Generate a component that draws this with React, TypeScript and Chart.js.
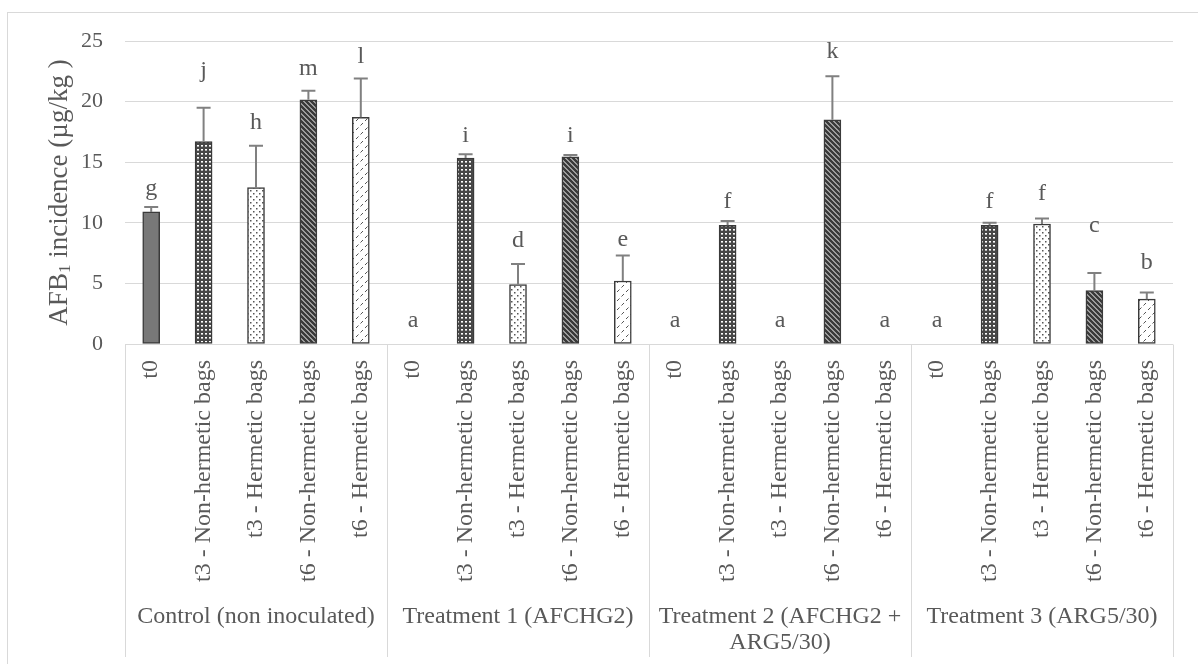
import React, { useEffect, useRef } from 'react';
import { Chart, registerables } from 'chart.js';

Chart.register(...registerables);

// ---- data ----
const groupLabels: string[][] = [
  ['Control (non inoculated)'],
  ['Treatment 1 (AFCHG2)'],
  ['Treatment 2 (AFCHG2 +', 'ARG5/30)'],
  ['Treatment 3 (ARG5/30)'],
];
const storageLabels = ['t0', 't3 - Non-hermetic bags', 't3 - Hermetic bags', 't6 - Non-hermetic bags', 't6 - Hermetic bags'];
const categories: string[] = groupLabels.flatMap(() => storageLabels);

const meanValues = [10.9, 16.7, 12.9, 20.15, 18.7, 0, 15.35, 4.9, 15.45, 5.2, 0, 9.8, 0, 18.5, 0, 0, 9.8, 9.9, 4.4, 3.7];
const errorTops = [11.3, 19.5, 16.35, 20.9, 21.9, 0, 15.65, 6.6, 15.6, 7.3, 0, 10.15, 0, 22.1, 0, 0, 10.0, 10.35, 5.85, 4.25];
const letters = ['g', 'j', 'h', 'm', 'l', 'a', 'i', 'd', 'i', 'e', 'a', 'f', 'a', 'k', 'a', 'a', 'f', 'f', 'c', 'b'];
const letterHeights = [12.3, 22.0, 17.7, 22.2, 23.2, 1.4, 16.7, 8.0, 16.7, 8.1, 1.4, 11.2, 1.4, 23.6, 1.4, 1.4, 11.2, 11.9, 9.25, 6.2];
const yTickValues = [0, 5, 10, 15, 20, 25];

const FONT = 'Liberation Serif';
const TEXT = '#595959';
const LINE = '#d9d9d9';

export default function App() {
  const ref = useRef<HTMLCanvasElement | null>(null);

  useEffect(() => {
    const canvas = ref.current;
    if (!canvas) return;
    const ctx = canvas.getContext('2d') as CanvasRenderingContext2D;

    const mk = (size: number, draw: (g: CanvasRenderingContext2D, s: number) => void) => {
      const c = document.createElement('canvas');
      c.width = size;
      c.height = size;
      const g = c.getContext('2d') as CanvasRenderingContext2D;
      draw(g, size);
      return ctx.createPattern(c, 'repeat') as CanvasPattern;
    };

    const pGrid = mk(4, (g, s) => {
      g.fillStyle = '#474747';
      g.fillRect(0, 0, s, s);
      g.fillStyle = '#ffffff';
      g.fillRect(1, 1, 2, 1.6);
    });
    const pDots = mk(6, (g, s) => {
      g.fillStyle = '#ffffff';
      g.fillRect(0, 0, s, s);
      g.fillStyle = '#555555';
      g.fillRect(1, 1, 1.5, 1.5);
      g.fillRect(4, 4, 1.5, 1.5);
    });
    const pStripes = mk(5, (g, s) => {
      g.fillStyle = '#ffffff';
      g.fillRect(0, 0, s, s);
      g.strokeStyle = '#3a3a3a';
      g.lineWidth = 2.8;
      for (const c of [-s, 0, s]) {
        g.beginPath();
        g.moveTo(-1, -1 + c);
        g.lineTo(s + 1, s + 1 + c);
        g.stroke();
      }
    });
    const pDash = mk(9, (g, s) => {
      g.fillStyle = '#ffffff';
      g.fillRect(0, 0, s, s);
      g.strokeStyle = '#555555';
      g.lineWidth = 1;
      g.beginPath();
      g.moveTo(0.5, 8.5);
      g.lineTo(3, 6);
      g.moveTo(5, 4);
      g.lineTo(7.5, 1.5);
      g.stroke();
    });
    const fills: (string | CanvasPattern)[] = ['#787878', pGrid, pDots, pStripes, pDash];

    const decor = {
      id: 'decor',
      beforeDraw(chart: any) {
        const c = chart.ctx;
        c.save();
        c.fillStyle = '#ffffff';
        c.fillRect(0, 0, chart.width, chart.height);
        c.strokeStyle = LINE;
        c.lineWidth = 1;
        c.strokeRect(7.5, 12.5, chart.width + 10, chart.height + 10);
        c.restore();
      },
      afterDatasetsDraw(chart: any) {
        const c = chart.ctx;
        const xs = chart.scales.x;
        const ys = chart.scales.y;
        c.save();
        // error bars
        c.strokeStyle = '#808080';
        c.lineWidth = 2;
        meanValues.forEach((v, i) => {
          const e = errorTops[i];
          if (e <= v) return;
          const x = xs.getPixelForValue(i);
          const y0 = ys.getPixelForValue(v);
          const y1 = ys.getPixelForValue(e);
          c.beginPath();
          c.moveTo(x, y0);
          c.lineTo(x, y1);
          c.moveTo(x - 7, y1);
          c.lineTo(x + 7, y1);
          c.stroke();
        });
        // letters
        c.fillStyle = TEXT;
        c.font = `24px "${FONT}"`;
        c.textAlign = 'center';
        c.textBaseline = 'alphabetic';
        letters.forEach((t, i) => {
          c.fillText(t, xs.getPixelForValue(i), ys.getPixelForValue(letterHeights[i]));
        });
        c.restore();
      },
      afterDraw(chart: any) {
        const c = chart.ctx;
        const xs = chart.scales.x;
        const area = chart.chartArea;
        const step = xs.getPixelForValue(1) - xs.getPixelForValue(0);
        const bottom = chart.height - 7;
        c.save();
        c.strokeStyle = LINE;
        c.lineWidth = 1;
        const left = xs.getPixelForValue(0) - step / 2;
        const right = xs.getPixelForValue(categories.length - 1) + step / 2;
        const yb = Math.round(area.bottom) + 0.5;
        c.beginPath();
        c.moveTo(left, yb);
        c.lineTo(right, yb);
        for (let gi = 0; gi <= groupLabels.length; gi++) {
          const x = Math.round(gi === groupLabels.length ? right : xs.getPixelForValue(gi * 5) - step / 2) + 0.5;
          c.moveTo(x, yb);
          c.lineTo(x, bottom);
        }
        c.stroke();
        // group labels
        c.fillStyle = TEXT;
        c.font = `24px "${FONT}"`;
        c.textAlign = 'center';
        c.textBaseline = 'middle';
        groupLabels.forEach((lines, gi) => {
          const cx = (xs.getPixelForValue(gi * 5) + xs.getPixelForValue(gi * 5 + 4)) / 2;
          lines.forEach((ln, li) => {
            c.fillText(ln, cx, area.bottom + 273 + li * 26);
          });
        });
        // y-axis title with subscript
        const cy = (area.top + area.bottom) / 2;
        c.translate(60, cy);
        c.rotate(-Math.PI / 2);
        c.textAlign = 'left';
        c.textBaseline = 'middle';
        const big = `27px "${FONT}"`;
        const small = `17px "${FONT}"`;
        const p1 = 'AFB';
        const p2 = '1';
        const p3 = ' incidence (µg/kg )';
        c.font = big;
        const w1 = c.measureText(p1).width;
        const w3 = c.measureText(p3).width;
        c.font = small;
        const w2 = c.measureText(p2).width;
        let x0 = -(w1 + w2 + w3) / 2;
        c.font = big;
        c.fillText(p1, x0, 0);
        x0 += w1;
        c.font = small;
        c.fillText(p2, x0, 6);
        x0 += w2;
        c.font = big;
        c.fillText(p3, x0, 0);
        c.restore();
      },
    };

    const chart = new Chart(canvas, {
      type: 'bar',
      data: {
        labels: categories,
        datasets: [
          {
            data: meanValues,
            backgroundColor: meanValues.map((_, i) => fills[i % 5]),
            borderColor: '#3a3a3a',
            borderWidth: 1.5,
            borderSkipped: false,
            barThickness: 17,
          },
        ],
      },
      options: {
        animation: false,
        responsive: false,
        layout: { padding: { top: 41, right: 25, bottom: 7, left: 0 } },
        plugins: { legend: { display: false }, tooltip: { enabled: false } },
        scales: {
          x: {
            type: 'category',
            grid: { display: false, drawTicks: false },
            border: { display: false },
            ticks: {
              autoSkip: false,
              maxRotation: 90,
              minRotation: 90,
              padding: 16,
              color: TEXT,
              font: { family: FONT, size: 24 },
            },
            afterFit: (s: any) => {
              s.height = 313;
            },
          },
          y: {
            min: 0,
            max: 25,
            afterBuildTicks: (s: any) => {
              s.ticks = yTickValues.map((v) => ({ value: v }));
            },
            grid: { color: LINE, drawTicks: false },
            border: { display: false },
            ticks: { padding: 22, color: TEXT, font: { family: FONT, size: 22 } },
            afterFit: (s: any) => {
              s.width = 125;
            },
          },
        },
      },
      plugins: [decor],
    } as any);

    return () => chart.destroy();
  }, []);

  return (
    <div style={{ position: 'absolute', left: 0, top: 0, width: 1198, height: 664, background: '#fff' }}>
      <canvas ref={ref} width={1198} height={664} style={{ display: 'block' }} />
    </div>
  );
}
